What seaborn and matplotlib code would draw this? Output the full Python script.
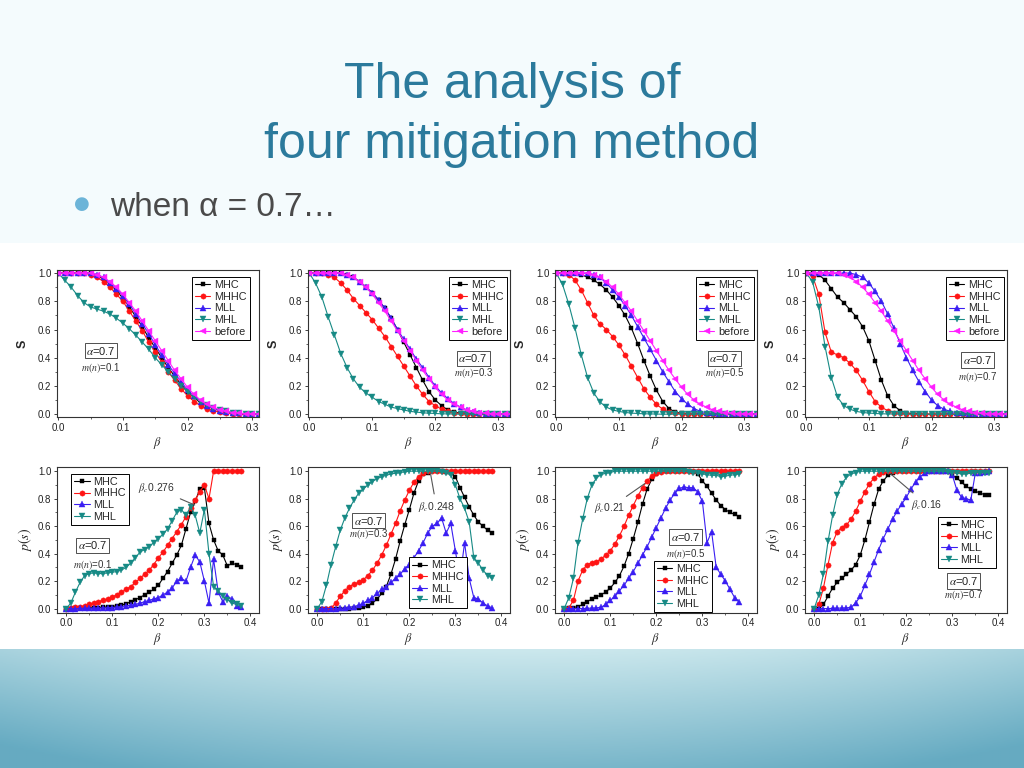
import numpy as np
import pandas as pd
import matplotlib
matplotlib.use('Agg')
import matplotlib.pyplot as plt
import seaborn as sns
from matplotlib.ticker import FixedLocator, AutoMinorLocator
from matplotlib.patches import Rectangle

# sampling grid of beta (attack strength)
beta_top = np.round(np.arange(0, 0.321, 0.01), 2)      # 0.00 .. 0.32
beta_bot = np.round(np.arange(0, 0.381, 0.01), 2)      # 0.00 .. 0.38

top_xticks = [0.0, 0.1, 0.2, 0.3]
bot_xticks = [0.0, 0.1, 0.2, 0.3, 0.4]
yticks = [0.0, 0.2, 0.4, 0.6, 0.8, 1.0]
m_values = ['0.1', '0.3', '0.5', '0.7']
beta_c = ['0.276', '0.248', '0.21', '0.16']

# ---- top row: S vs beta ----
s_before = [1.0, 1.0, 1.0, 1.0, 1.0, 1.0, 0.99, 0.97, 0.94, 0.90, 0.85, 0.79, 0.73, 0.66, 0.59, 0.52, 0.45,
            0.38, 0.31, 0.25, 0.19, 0.14, 0.10, 0.07, 0.05, 0.03, 0.02, 0.012, 0.007, 0.004, 0.002, 0.001, 0.0]

s_mhc_1 = [1, 1, 1, 1, 1, 1, 0.98, 0.96, 0.92, 0.88, 0.82, 0.76, 0.69, 0.62, 0.54, 0.47, 0.40, 0.33, 0.27,
           0.21, 0.16, 0.12, 0.08, 0.06, 0.04, 0.025, 0.015, 0.008, 0.004, 0.002, 0.001, 0, 0]
s_mhhc_1 = [1, 1, 1, 1, 1, 0.99, 0.97, 0.94, 0.90, 0.85, 0.80, 0.73, 0.66, 0.59, 0.51, 0.44, 0.37, 0.30, 0.24,
            0.18, 0.13, 0.09, 0.06, 0.04, 0.025, 0.015, 0.008, 0.004, 0.002, 0.001, 0, 0, 0]
s_mll_1 = [1, 1, 1, 1, 1, 1, 0.99, 0.97, 0.93, 0.89, 0.84, 0.78, 0.71, 0.64, 0.57, 0.49, 0.42, 0.35, 0.29,
           0.23, 0.17, 0.13, 0.09, 0.06, 0.04, 0.025, 0.015, 0.009, 0.005, 0.003, 0.001, 0, 0]
s_mhl_1 = [1.0, 0.95, 0.90, 0.84, 0.79, 0.76, 0.745, 0.73, 0.71, 0.68, 0.645, 0.605, 0.56, 0.51, 0.46, 0.40,
           0.35, 0.30, 0.25, 0.20, 0.16, 0.12, 0.09, 0.065, 0.045, 0.03, 0.02, 0.012, 0.006, 0.003, 0.001, 0, 0]

s_mhc_2 = [1, 1, 1, 1, 1, 1, 0.99, 0.97, 0.94, 0.90, 0.86, 0.81, 0.75, 0.68, 0.60, 0.51, 0.42, 0.33, 0.24,
           0.16, 0.10, 0.06, 0.03, 0.015, 0.008, 0.004, 0.002, 0, 0, 0, 0, 0, 0]
s_mhhc_2 = [1, 1, 1, 0.99, 0.97, 0.93, 0.88, 0.82, 0.77, 0.72, 0.67, 0.61, 0.55, 0.48, 0.41, 0.34, 0.27, 0.20,
            0.14, 0.09, 0.06, 0.035, 0.02, 0.01, 0.005, 0.002, 0, 0, 0, 0, 0, 0, 0]
s_mll_2 = [1, 1, 1, 1, 1, 1, 0.99, 0.97, 0.94, 0.90, 0.86, 0.81, 0.75, 0.68, 0.60, 0.53, 0.46, 0.39, 0.33,
           0.26, 0.20, 0.15, 0.11, 0.075, 0.05, 0.03, 0.015, 0.008, 0.004, 0.002, 0.001, 0, 0]
s_mhl_2 = [1.0, 0.93, 0.83, 0.69, 0.56, 0.43, 0.33, 0.25, 0.19, 0.15, 0.12, 0.09, 0.07, 0.05, 0.04, 0.03,
           0.02, 0.015, 0.01, 0.007, 0.005, 0.003, 0.002, 0.001, 0, 0, 0, 0, 0, 0, 0, 0, 0]

s_mhc_3 = [1, 1, 1, 1, 0.99, 0.97, 0.95, 0.92, 0.88, 0.83, 0.77, 0.70, 0.61, 0.50, 0.38, 0.27, 0.17, 0.09,
           0.04, 0.015, 0.005, 0.002, 0, 0, 0, 0, 0, 0, 0, 0, 0, 0, 0]
s_mhhc_3 = [1, 1, 0.99, 0.95, 0.88, 0.79, 0.70, 0.64, 0.60, 0.55, 0.49, 0.42, 0.34, 0.26, 0.18, 0.12, 0.07,
            0.035, 0.015, 0.006, 0.003, 0.001, 0, 0, 0, 0, 0, 0, 0, 0, 0, 0, 0]
s_mll_3 = [1, 1, 1, 1, 1, 1, 0.99, 0.97, 0.93, 0.88, 0.83, 0.77, 0.70, 0.62, 0.54, 0.46, 0.38, 0.30, 0.23,
           0.16, 0.11, 0.07, 0.04, 0.02, 0.01, 0.005, 0.002, 0.001, 0, 0, 0, 0, 0]
s_mhl_3 = [1.0, 0.92, 0.78, 0.61, 0.42, 0.26, 0.15, 0.085, 0.05, 0.03, 0.02, 0.012, 0.008, 0.005, 0.003,
           0.002, 0.001, 0, 0, 0, 0, 0, 0, 0, 0, 0, 0, 0, 0, 0, 0, 0, 0]

s_mhc_4 = [1, 1, 0.99, 0.95, 0.89, 0.83, 0.79, 0.74, 0.69, 0.62, 0.52, 0.38, 0.24, 0.13, 0.06, 0.025, 0.01,
           0.004, 0.002, 0, 0, 0, 0, 0, 0, 0, 0, 0, 0, 0, 0, 0, 0]
s_mhhc_4 = [1.0, 0.98, 0.85, 0.58, 0.44, 0.42, 0.40, 0.36, 0.31, 0.24, 0.16, 0.09, 0.05, 0.025, 0.012, 0.006,
            0.003, 0, 0, 0, 0, 0, 0, 0, 0, 0, 0, 0, 0, 0, 0, 0, 0]
s_mll_4 = [1, 1, 1, 1, 1, 1, 1, 1, 0.99, 0.97, 0.93, 0.87, 0.80, 0.71, 0.61, 0.50, 0.40, 0.31, 0.23, 0.16,
           0.10, 0.06, 0.035, 0.02, 0.01, 0.005, 0.002, 0, 0, 0, 0, 0, 0]
s_mhl_4 = [1.0, 0.94, 0.76, 0.48, 0.26, 0.12, 0.06, 0.035, 0.02, 0.012, 0.008, 0.005, 0.003, 0.002, 0.001,
           0, 0, 0, 0, 0, 0, 0, 0, 0, 0, 0, 0, 0, 0, 0, 0, 0, 0]

# ---- bottom row: p(s) vs beta ----
p_mhc_1 = [0, 0, 0.002, 0.003, 0.004, 0.005, 0.006, 0.008, 0.01, 0.012, 0.015, 0.02, 0.025, 0.035, 0.05,
           0.065, 0.08, 0.10, 0.12, 0.14, 0.17, 0.22, 0.27, 0.33, 0.39, 0.46, 0.58, 0.70, 0.78, 0.87, 0.88,
           0.62, 0.50, 0.42, 0.39, 0.31, 0.33, 0.32, 0.30]
p_mhhc_1 = [0, 0.005, 0.01, 0.015, 0.02, 0.03, 0.04, 0.05, 0.06, 0.07, 0.085, 0.10, 0.12, 0.14, 0.16, 0.19,
            0.22, 0.25, 0.28, 0.32, 0.37, 0.41, 0.46, 0.51, 0.56, 0.61, 0.67, 0.73, 0.79, 0.85, 0.90, 0.80,
            1.0, 1.0, 1.0, 1.0, 1.0, 1.0, 1.0]
p_mll_1 = [0, 0, 0, 0.001, 0.002, 0.002, 0.003, 0.004, 0.005, 0.006, 0.008, 0.01, 0.015, 0.02, 0.025, 0.03,
           0.04, 0.05, 0.06, 0.07, 0.08, 0.10, 0.12, 0.15, 0.20, 0.22, 0.20, 0.30, 0.39, 0.34, 0.20, 0.04,
           0.36, 0.12, 0.05, 0.09, 0.07, 0.02, 0.01]
p_mhl_1 = [0, 0.04, 0.12, 0.19, 0.24, 0.255, 0.26, 0.255, 0.255, 0.26, 0.265, 0.27, 0.28, 0.30, 0.33, 0.37,
           0.41, 0.43, 0.45, 0.48, 0.51, 0.54, 0.58, 0.64, 0.70, 0.72, 0.68, 0.74, 0.68, 0.55, 0.72, 0.40,
           0.16, 0.13, 0.09, 0.065, 0.04, 0.03, 0.02]

p_mhc_2 = [0, 0, 0, 0, 0, 0, 0, 0, 0.002, 0.005, 0.01, 0.02, 0.04, 0.07, 0.11, 0.16, 0.25, 0.36, 0.49, 0.61,
           0.72, 0.84, 0.93, 0.98, 0.99, 1.0, 1.0, 1.0, 0.995, 0.99, 0.96, 0.88, 0.81, 0.74, 0.68, 0.63,
           0.60, 0.57, 0.55]
p_mhhc_2 = [0, 0, 0, 0.005, 0.04, 0.09, 0.13, 0.16, 0.18, 0.19, 0.21, 0.24, 0.28, 0.33, 0.39, 0.46, 0.54,
            0.62, 0.71, 0.79, 0.86, 0.92, 0.96, 0.985, 1.0, 1.0, 1.0, 1.0, 1.0, 1.0, 1.0, 1.0, 1.0, 1.0, 1.0,
            1.0, 1.0, 1.0, 1.0]
p_mll_2 = [0, 0, 0, 0, 0, 0.002, 0.005, 0.01, 0.015, 0.025, 0.04, 0.06, 0.08, 0.11, 0.14, 0.16, 0.19, 0.22,
           0.25, 0.29, 0.32, 0.37, 0.42, 0.48, 0.55, 0.60, 0.62, 0.66, 0.55, 0.62, 0.42, 0.22, 0.48, 0.22,
           0.08, 0.07, 0.04, 0.02, 0.005]
p_mhl_2 = [0, 0.05, 0.17, 0.32, 0.45, 0.57, 0.66, 0.73, 0.79, 0.84, 0.87, 0.90, 0.925, 0.945, 0.96, 0.97,
           0.98, 0.985, 0.99, 0.995, 1.0, 1.0, 1.0, 1.0, 1.0, 1.0, 1.0, 0.995, 0.99, 0.97, 0.90, 0.80, 0.73,
           0.63, 0.37, 0.33, 0.28, 0.24, 0.22]

p_mhc_3 = [0, 0.003, 0.008, 0.015, 0.03, 0.05, 0.07, 0.085, 0.10, 0.12, 0.15, 0.19, 0.24, 0.31, 0.40, 0.51,
           0.63, 0.76, 0.87, 0.94, 0.98, 1.0, 1.0, 1.0, 1.0, 1.0, 1.0, 1.0, 0.995, 0.98, 0.93, 0.89, 0.84,
           0.79, 0.75, 0.72, 0.70, 0.685, 0.67]
p_mhhc_3 = [0, 0.005, 0.06, 0.20, 0.28, 0.32, 0.335, 0.34, 0.36, 0.39, 0.42, 0.47, 0.53, 0.60, 0.68, 0.75,
            0.82, 0.88, 0.93, 0.965, 0.985, 0.995, 1.0, 1.0, 1.0, 1.0, 1.0, 1.0, 1.0, 1.0, 1.0, 1.0, 1.0, 1.0,
            1.0, 1.0, 1.0, 1.0, 1.0]
p_mll_3 = [0, 0, 0, 0, 0, 0.002, 0.003, 0.005, 0.01, 0.03, 0.06, 0.09, 0.13, 0.17, 0.22, 0.27, 0.33, 0.39,
           0.45, 0.52, 0.59, 0.66, 0.73, 0.79, 0.84, 0.875, 0.885, 0.88, 0.88, 0.85, 0.78, 0.48, 0.56, 0.30,
           0.25, 0.20, 0.14, 0.08, 0.05]
p_mhl_3 = [0, 0.08, 0.22, 0.48, 0.65, 0.80, 0.90, 0.95, 0.975, 0.985, 0.99, 1.0, 1.0, 1.0, 1.0, 1.0, 1.0,
           1.0, 1.0, 1.0, 1.0, 1.0, 1.0, 1.0, 1.0, 1.0, 1.0, 0.995, 0.99, 0.985, 0.98, 0.975, 0.97, 0.97,
           0.96, 0.965, 0.97, 0.975, 0.98]

p_mhc_4 = [0, 0, 0.03, 0.09, 0.15, 0.19, 0.22, 0.25, 0.28, 0.32, 0.39, 0.50, 0.63, 0.76, 0.87, 0.93, 0.97,
           0.985, 1.0, 1.0, 1.0, 1.0, 1.0, 1.0, 1.0, 1.0, 1.0, 1.0, 1.0, 1.0, 0.97, 0.95, 0.92, 0.89, 0.87,
           0.855, 0.84, 0.83, 0.825]
p_mhhc_4 = [0, 0.03, 0.15, 0.32, 0.48, 0.56, 0.59, 0.61, 0.65, 0.71, 0.78, 0.85, 0.91, 0.95, 0.98, 0.995,
            1.0, 1.0, 1.0, 1.0, 1.0, 1.0, 1.0, 1.0, 1.0, 1.0, 1.0, 1.0, 1.0, 1.0, 1.0, 1.0, 1.0, 1.0, 1.0,
            1.0, 1.0, 1.0, 1.0]
p_mll_4 = [0, 0, 0, 0, 0.002, 0.003, 0.004, 0.005, 0.01, 0.04, 0.09, 0.17, 0.25, 0.34, 0.43, 0.51, 0.58,
           0.65, 0.71, 0.76, 0.81, 0.87, 0.92, 0.96, 0.985, 1.0, 1.0, 1.0, 1.0, 1.0, 0.97, 0.86, 0.81, 0.80,
           0.79, 0.99, 0.99, 0.995, 1.0]
p_mhl_4 = [0, 0.10, 0.25, 0.49, 0.68, 0.83, 0.91, 0.955, 0.98, 0.99, 1.0, 1.0, 1.0, 1.0, 1.0, 1.0, 1.0,
           1.0, 1.0, 1.0, 1.0, 1.0, 1.0, 1.0, 1.0, 1.0, 1.0, 1.0, 1.0, 0.995, 0.99, 0.985, 0.98, 0.98,
           0.985, 0.99, 0.99, 0.99, 0.99]

# colour, marker, marker size
STYLE = {'MHC': ('black', 's', 3.2), 'MHHC': ('#ff1414', 'o', 3.8), 'MLL': ('#3a1ef2', '^', 4.0),
         'MHL': ('#178a85', 'v', 4.0), 'before': ('#ff1eff', '<', 4.0)}

top_curves = [
    {'MHC': s_mhc_1, 'MHHC': s_mhhc_1, 'MLL': s_mll_1, 'MHL': s_mhl_1, 'before': s_before},
    {'MHC': s_mhc_2, 'MHHC': s_mhhc_2, 'MLL': s_mll_2, 'MHL': s_mhl_2, 'before': s_before},
    {'MHC': s_mhc_3, 'MHHC': s_mhhc_3, 'MLL': s_mll_3, 'MHL': s_mhl_3, 'before': s_before},
    {'MHC': s_mhc_4, 'MHHC': s_mhhc_4, 'MLL': s_mll_4, 'MHL': s_mhl_4, 'before': s_before},
]
bot_curves = [
    {'MHC': p_mhc_1, 'MHHC': p_mhhc_1, 'MLL': p_mll_1, 'MHL': p_mhl_1},
    {'MHC': p_mhc_2, 'MHHC': p_mhhc_2, 'MLL': p_mll_2, 'MHL': p_mhl_2},
    {'MHC': p_mhc_3, 'MHHC': p_mhhc_3, 'MLL': p_mll_3, 'MHL': p_mhl_3},
    {'MHC': p_mhc_4, 'MHHC': p_mhhc_4, 'MLL': p_mll_4, 'MHL': p_mhl_4},
]

# layout / annotation placement (data coords)
lefts = [57, 308, 555, 805]
top_xmax = [0.31, 0.318, 0.32, 0.32]
top_alpha_pos = [(0.066, 0.45, 0.325), (0.26, 0.395, 0.29), (0.268, 0.395, 0.29), (0.273, 0.385, 0.265)]
top_leg_anchor = [(0.955, 0.955), (0.985, 0.955), (0.985, 0.955), (0.985, 0.955)]
bot_alpha_pos = [(0.058, 0.46, 0.32), (0.112, 0.64, 0.54), (0.264, 0.52, 0.40), (0.324, 0.20, 0.10)]
bot_leg = [('upper left', (0.07, 0.955)), ('lower left', (0.5, 0.03)),
           ('lower left', (0.49, 0.005)), ('upper left', (0.66, 0.66))]
arrow_xy = [(0.279, 0.754), (0.246, 0.983), (0.175, 0.91), (0.165, 0.983)]
arrow_text = [(0.195, 0.875), (0.259, 0.74), (0.098, 0.73), (0.245, 0.754)]

sns.set_theme(style='ticks')
plt.rcParams['font.family'] = ['Liberation Sans', 'DejaVu Sans']
plt.rcParams['mathtext.fontset'] = 'stix'

fig = plt.figure(figsize=(10.24, 7.68), dpi=100)
fig.patch.set_facecolor('#f4fbfd')
fig.patches.append(Rectangle((0, 0.154), 1, 0.53, transform=fig.transFigure,
                             facecolor='white', edgecolor='none', zorder=-5))

# blue band at the bottom of the slide
bg = fig.add_axes([0, 0, 1, 0.155])
bg.set_zorder(-4)
rows = np.linspace(0, 1, 60)[:, None]
cols = np.linspace(-1, 1, 300)[None, :]
top_c = np.array([0.80, 0.91, 0.93])
bot_c = np.array([0.40, 0.67, 0.76])
t = np.clip(rows * 0.8 + np.abs(cols) ** 2 * 0.35, 0, 1)[..., None]
grad = top_c * (1 - t) + bot_c * t
bg.imshow(grad, aspect='auto', extent=(0, 1, 0, 1))
bg.axis('off')

fig.text(0.5, 1 - 85 / 768, 'The analysis of', ha='center', va='center', fontsize=36, color='#2b7a9c')
fig.text(0.5, 1 - 145 / 768, 'four mitigation method', ha='center', va='center', fontsize=36, color='#2b7a9c')
fig.text(82 / 1024, 1 - 204 / 768, '\u25cf', ha='center', va='center', fontsize=13, color='#6cb4d8',
         family='DejaVu Sans')
fig.text(110 / 1024, 1 - 207 / 768, 'when \u03b1 = 0.7\u2026', ha='left', va='center', fontsize=24, color='#4a4a4a')


def style_axes(ax, xticks, xlim, ylim):
    ax.set_xlim(*xlim)
    ax.set_ylim(*ylim)
    ax.xaxis.set_major_locator(FixedLocator(xticks))
    ax.set_xticklabels([f'{v:.1f}' for v in xticks])
    ax.yaxis.set_major_locator(FixedLocator(yticks))
    ax.set_yticklabels([f'{v:.1f}' for v in yticks])
    ax.xaxis.set_minor_locator(AutoMinorLocator(2))
    ax.yaxis.set_minor_locator(AutoMinorLocator(2))
    ax.tick_params(which='major', direction='out', length=2.5, width=0.6, labelsize=7, pad=1.5,
                   colors='#222222')
    ax.tick_params(which='minor', direction='out', length=1.5, width=0.5)
    for sp in ax.spines.values():
        sp.set_visible(True)
        sp.set_linewidth(0.8)
        sp.set_color('#333333')
    ax.set_facecolor('white')


def draw_curves(ax, beta, curves):
    for name, vals in curves.items():
        color, mk, ms = STYLE[name]
        sns.lineplot(x=beta, y=vals, ax=ax, color=color, marker=mk, markersize=ms,
                     markeredgewidth=0.3, markeredgecolor=color, linewidth=0.8,
                     label=name, estimator=None, sort=False)


def legend(ax, loc, anchor, fs):
    lg = ax.legend(loc=loc, bbox_to_anchor=anchor, fontsize=fs, frameon=True, fancybox=False,
                   edgecolor='black', framealpha=1, borderpad=0.3, labelspacing=0.15,
                   handlelength=1.4, handletextpad=0.35, borderaxespad=0)
    lg.get_frame().set_linewidth(0.7)


box = dict(boxstyle='square,pad=0.15', facecolor='white', edgecolor='#333333', linewidth=0.6)

for i in range(4):
    # top: S
    ax = fig.add_axes([lefts[i] / 1024, 0.457, 0.197, 0.191])
    draw_curves(ax, beta_top, top_curves[i])
    style_axes(ax, top_xticks, (-0.002, top_xmax[i]), (-0.02, 1.02))
    ax.set_xlabel(r'$\beta$', fontsize=9, labelpad=2)
    ax.set_ylabel('S', fontsize=9, fontweight='bold', labelpad=7)
    legend(ax, 'upper right', top_leg_anchor[i], 7.8)
    x0, ya, ym = top_alpha_pos[i]
    ax.text(x0, ya, r'$\alpha$=0.7', ha='center', va='center', fontsize=8, bbox=box, color='#222222')
    ax.text(x0, ym, r'$m(n)$=' + m_values[i], ha='center', va='center', fontsize=7, color='#333333')

    # bottom: p(s)
    ax = fig.add_axes([lefts[i] / 1024, 0.202, 0.197, 0.190])
    draw_curves(ax, beta_bot, bot_curves[i])
    style_axes(ax, bot_xticks, (-0.02, 0.418), (-0.031, 1.031))
    ax.set_xlabel(r'$\beta$', fontsize=9, labelpad=2)
    ax.set_ylabel(r'$p(s)$', fontsize=10, labelpad=3)
    legend(ax, bot_leg[i][0], bot_leg[i][1], 7.8)
    x0, ya, ym = bot_alpha_pos[i]
    ax.text(x0, ya, r'$\alpha$=0.7', ha='center', va='center', fontsize=8, bbox=box, color='#222222')
    ax.text(x0, ym, r'$m(n)$=' + m_values[i], ha='center', va='center', fontsize=7, color='#333333')
    ax.annotate(r'$\beta_c$' + beta_c[i], xy=arrow_xy[i], xytext=arrow_text[i], ha='center', va='center',
                fontsize=7.5, color='#333333',
                arrowprops=dict(arrowstyle='-', color='#555555', lw=0.8, shrinkA=2, shrinkB=0))

fig.savefig('out.png', dpi=100, facecolor=fig.get_facecolor())
